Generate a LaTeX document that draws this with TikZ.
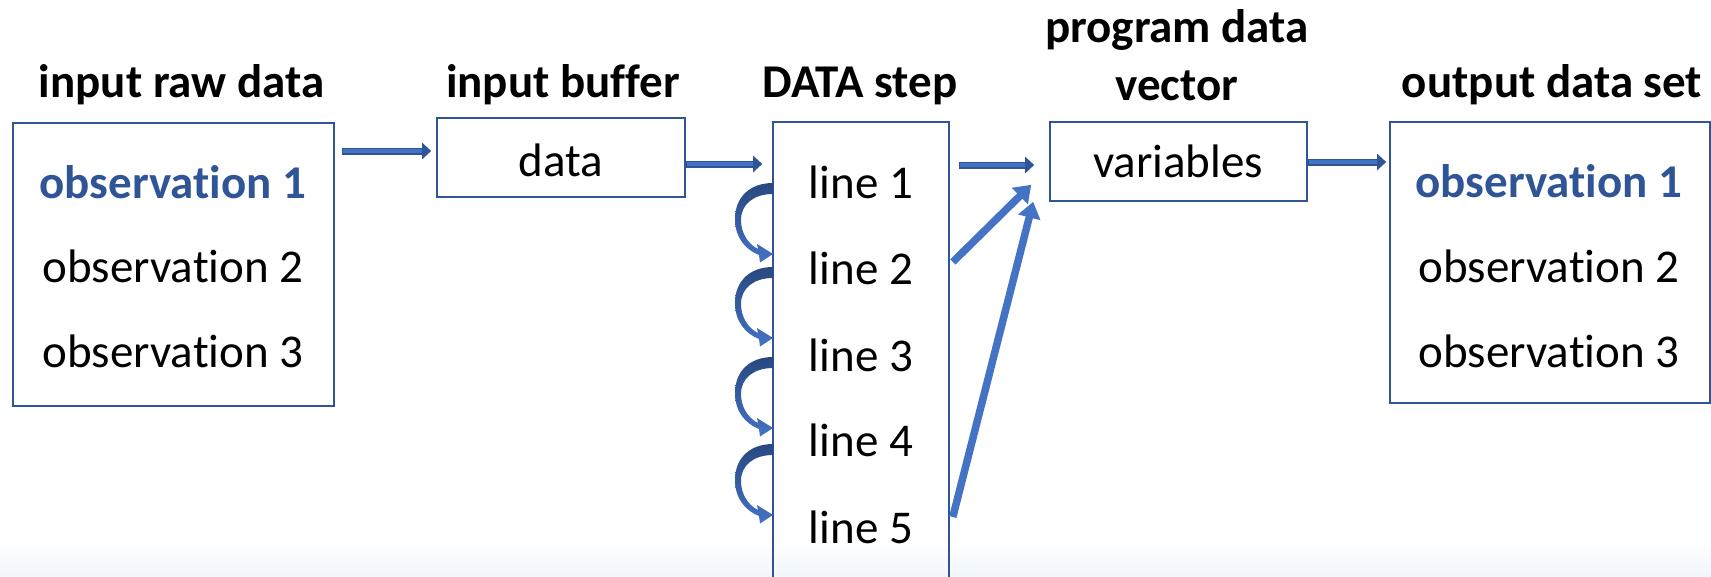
\documentclass[tikz,border=0pt]{standalone}
\usepackage{fontspec}
\setmainfont{Carlito}[Ligatures={NoCommon,NoContextual}]
\usetikzlibrary{arrows.meta}
\definecolor{dblue}{HTML}{2F5597}
\definecolor{mblue}{HTML}{4472C4}
\definecolor{bandblue}{HTML}{F1F5FB}
\newcommand\curvarr[1]{%
  \begin{scope}[shift={(0,#1)}]
    \shade[curv] (773,0) .. controls (750,0) and (735,14) .. (735,36)
      .. controls (735,55) and (746,67) .. (759,72) -- (760,79.5) -- (773,71)
      -- (757,61) -- (758,66) .. controls (748,61) and (741,50) .. (741,37)
      .. controls (741,21) and (754,11) .. (773,11) -- cycle;
  \end{scope}}
\begin{document}
\begin{tikzpicture}[x=1pt,y=-1pt,
  box/.style={draw=dblue, line width=1.6pt, inner sep=0pt},
  ttl/.style={font=\bfseries\fontsize{47}{56}\selectfont, anchor=base, inner sep=0pt},
  txt/.style={font=\fontsize{47}{56}\selectfont, anchor=base, inner sep=0pt},
  hi/.style={font=\bfseries\fontsize{47}{56}\selectfont, anchor=base, inner sep=0pt, text=dblue},
  dbl/.style 2 args={line width=7pt, draw=dblue, -{Triangle[width=16pt,length=9pt]},
     shorten <=#1, shorten >=#2,
     postaction={draw=mblue, line width=3.4pt, -, shorten <=#1+1.5pt, shorten >=#2+9pt}},
  fat/.style={line width=7.5pt, draw=mblue, -{Triangle[width=22pt,length=16pt]}},
  curv/.style={top color=dblue!85!black, bottom color=mblue}
]
\useasboundingbox (0,0) rectangle (1711,576);
\clip (0,0) rectangle (1711,576);
\shade[top color=white, bottom color=bandblue] (0,540) rectangle (1711,576);

% boxes
\node[box, minimum width=321pt, minimum height=283pt] (b1) at (173.5,264.5) {};
\node[box, minimum width=248pt, minimum height=79pt] (b2) at (561,157.5) {};
\node[box, minimum width=176pt, minimum height=498pt] (b3) at (861,371) {};
\node[box, minimum width=257pt, minimum height=79pt] (b4) at (1178.5,161.5) {};
\node[box, minimum width=320pt, minimum height=281pt] (b5) at (1550,262.5) {};

% titles
\node[ttl] (t1) at (181.5,97) {input raw data};
\node[ttl] (t2) at (563,97) {input buffer};
\node[ttl] (t3) at (860,97) {DATA step};
\node[ttl] (t4a) at (1177,42) {program data};
\node[ttl] (t4b) at (1177,100) {vector};
\node[ttl] (t5) at (1552,97) {output data set};

% texts
\node[hi] (i1) at (173,198) {observation 1};
\node[txt] (i2) at (173,282) {observation 2};
\node[txt] (i3) at (173,367) {observation 3};
\node[txt] (d) at (561,176) {data};
\node[txt] (l1) at (861,198) {line 1};
\node[txt] (l2) at (861,284) {line 2};
\node[txt] (l3) at (861,371) {line 3};
\node[txt] (l4) at (861,456) {line 4};
\node[txt] (l5) at (861,543) {line 5};
\node[txt] (v) at (1178,177) {variables};
\node[hi] (o1) at (1549,197) {observation 1};
\node[txt] (o2) at (1549,282) {observation 2};
\node[txt] (o3) at (1549,367) {observation 3};

% straight arrows
\coordinate (a1) at (0,151);
\coordinate (a2) at (0,164);
\coordinate (a3) at (0,165);
\coordinate (a4) at (0,162);
\draw[dbl={7pt}{5pt}] (b1.east |- a1) -- (b2.west |- a1);
\draw[dbl={0pt}{10pt}] (b2.east |- a2) -- (b3.west |- a2);
\draw[dbl={9pt}{15pt}] (b3.east |- a3) -- (b4.west |- a3);
\draw[dbl={0pt}{3pt}] (b4.east |- a4) -- (b5.west |- a4);

% diagonal arrows
\draw[fat] ([shift={(3pt,109pt)}]b3.east) -- ([shift={(-18pt,17pt)}]b4.south west);
\draw[fat] ([shift={(3pt,-146pt)}]b3.east) -- ([shift={(-16pt,0pt)}]b4.south west);

% curved arrows
\curvarr{183}
\curvarr{267}
\curvarr{357}
\curvarr{444}
\end{tikzpicture}
\end{document}
